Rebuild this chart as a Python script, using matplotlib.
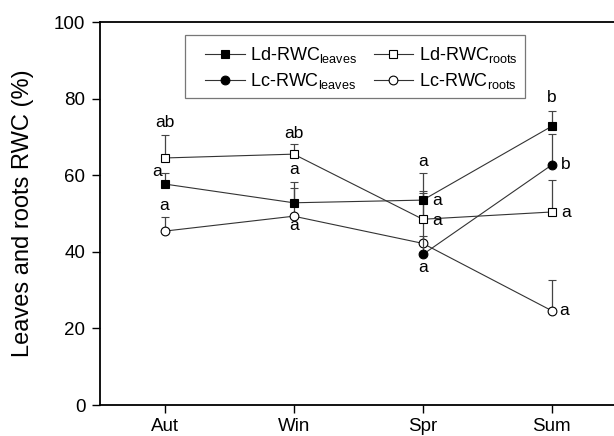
import numpy as np
import matplotlib
matplotlib.use("Agg")
import matplotlib.pyplot as plt
from matplotlib.lines import Line2D
from matplotlib.patches import Rectangle

plt.rcParams['font.family'] = ['Liberation Sans', 'DejaVu Sans']
plt.rcParams['mathtext.default'] = 'regular'

seasons = ["Aut", "Win", "Spr", "Sum"]
x = np.arange(1, 5)

ld_leaves = [57.7, 52.8, 53.5, 72.8]
ld_leaves_err = [2.9, 5.4, 7.0, 3.9]
ld_roots = [64.5, 65.5, 48.5, 50.4]
ld_roots_err = [6.0, 2.6, 7.5, 8.3]
lc_leaves = [np.nan, np.nan, 39.3, 62.7]
lc_leaves_err = [0, 0, 4.9, 8.0]
lc_roots = [45.4, 49.3, 42.2, 24.6]
lc_roots_err = [3.7, 7.4, 13.2, 8.0]

# significance letters: (x position, y value, text, horizontal alignment)
letters = [
    (0.94, 61.0, "a", "center"), (2.0, 61.5, "a", "center"), (3.0, 63.5, "a", "center"),
    (3.07, 53.3, "a", "left"), (4.0, 80.2, "b", "center"),
    (1.0, 73.8, "ab", "center"), (2.0, 71.0, "ab", "center"), (3.07, 48.3, "a", "left"),
    (4.07, 50.3, "a", "left"),
    (3.0, 35.8, "a", "center"), (4.07, 62.7, "b", "left"),
    (1.0, 52.2, "a", "center"), (2.0, 46.8, "a", "center"), (4.06, 24.6, "a", "left"),
]

fig = plt.figure(figsize=(6.14, 4.36), dpi=100)
ax = fig.add_axes([0.1629, 0.0711, 1.004 - 0.1629, 0.9495 - 0.0711])

lc = '#333333'
ms = 6.3
common = dict(color=lc, lw=0.8, ecolor='#444444', elinewidth=0.9, capsize=3, capthick=0.9, markersize=ms,
              markeredgecolor='black', markeredgewidth=0.8)

def plot_series(vals, err, marker, face, z):
    vals = np.array(vals, dtype=float)
    err = np.array(err, dtype=float)
    mask = ~np.isnan(vals)
    ax.errorbar(x[mask], vals[mask], yerr=[np.zeros(mask.sum()), err[mask]],
                marker=marker, markerfacecolor=face, zorder=z, **common)

plot_series(ld_roots, ld_roots_err, 's', 'white', 3)
plot_series(lc_roots, lc_roots_err, 'o', 'white', 3)
plot_series(ld_leaves, ld_leaves_err, 's', 'black', 4)
plot_series(lc_leaves, lc_leaves_err, 'o', 'black', 4)

for xi, yi, t, ha in letters:
    ax.text(xi, yi, t, ha=ha, va='center', fontsize=12.5, zorder=6)

ax.set_xlim(0.5, 4.5)
ax.set_ylim(0, 100)
ax.set_xticks(x)
ax.set_xticklabels(seasons)
ax.set_yticks([0, 20, 40, 60, 80, 100])
ax.tick_params(axis='both', direction='out', length=5.5, width=1.0, labelsize=13.5)
ax.tick_params(axis='y', pad=5)
ax.tick_params(axis='x', pad=4)
ax.set_ylabel("Leaves and roots RWC (%)", fontsize=17)
ax.yaxis.set_label_coords(-0.128, 0.5)
for s in ('left', 'bottom', 'top'):
    ax.spines[s].set_linewidth(1.3)
ax.spines['right'].set_visible(False)

def h(marker, face):
    return Line2D([], [], color=lc, lw=0.8, marker=marker, markerfacecolor=face,
                  markeredgecolor='black', markeredgewidth=0.8, markersize=ms)

handles = [h('s', 'black'), h('o', 'black'), h('s', 'white'), h('o', 'white')]
labels = ['Ld-RWC$_{leaves}$', 'Lc-RWC$_{leaves}$', 'Ld-RWC$_{roots}$', 'Lc-RWC$_{roots}$']
leg = ax.legend(handles, labels, ncol=2, loc='upper left',
                bbox_to_anchor=(0.2033, 0.940), fontsize=13, frameon=False,
                borderpad=0, labelspacing=0.35, handlelength=2.2, handletextpad=0.3,
                columnspacing=0.9, borderaxespad=0)
ax.add_patch(Rectangle((0.1646, 0.8016), 0.823 - 0.1646, 0.966 - 0.8016, transform=ax.transAxes,
                       fill=False, edgecolor='#777777', lw=0.9, zorder=5))

fig.savefig("out.png", dpi=100)
